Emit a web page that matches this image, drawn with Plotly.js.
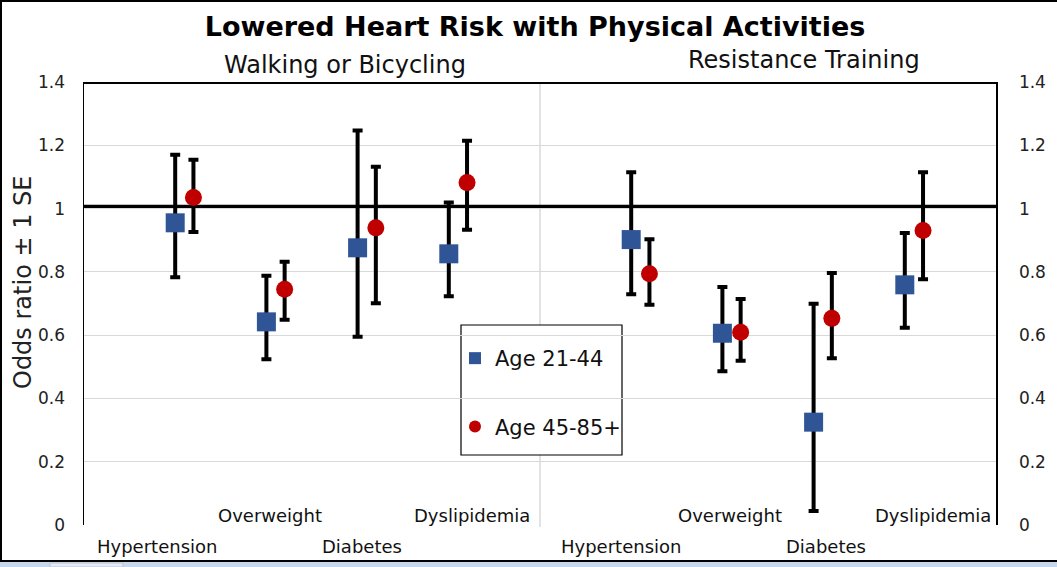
<!DOCTYPE html>
<html>
<head>
<meta charset="utf-8">
<script src="https://cdn.plot.ly/plotly-3.0.1.min.js"></script>
<style>html,body{margin:0;padding:0;background:#fff;}#chart{width:1057px;height:567px;}</style>
</head>
<body>
<div id="chart"></div>
<script>
// ---- data ----
const groups = ["Walking or Bicycling", "Resistance Training"];
const categories = ["Hypertension", "Overweight", "Diabetes", "Dyslipidemia"];
const seriesNames = ["Age 21-44", "Age 45-85+"];

// Walking or Bicycling
const walkYoung    = [0.955, 0.642, 0.876, 0.857];
const walkYoungHi  = [1.170, 0.788, 1.247, 1.019];
const walkYoungLo  = [0.783, 0.524, 0.595, 0.723];
const walkOld      = [1.035, 0.745, 0.939, 1.082];
const walkOldHi    = [1.154, 0.832, 1.132, 1.214];
const walkOldLo    = [0.926, 0.649, 0.701, 0.933];

// Resistance Training
const resYoung     = [0.902, 0.606, 0.325, 0.759];
const resYoungHi   = [1.115, 0.752, 0.699, 0.923];
const resYoungLo   = [0.729, 0.486, 0.044, 0.623];
const resOld       = [0.794, 0.609, 0.653, 0.931];
const resOldHi     = [0.903, 0.714, 0.796, 1.115];
const resOldLo     = [0.696, 0.519, 0.527, 0.777];

const yTicks = [0, 0.2, 0.4, 0.6, 0.8, 1, 1.2, 1.4];

// ---- layout helpers (positions only) ----
const groupStart = [1, 6];      // x position of first category in each group
const ageOffset = [0, 0.2];     // horizontal offset of the second age series
const labelX = [[0.80, 2.04, 3.05, 4.25], [5.89, 7.08, 8.14, 9.31]];
const labelRowUpper = [false, true, false, true];

const FONT = "DejaVu Sans";
const BLUE = "#2F5597";
const RED = "#C00000";

function xs(g, s) { return categories.map((_, i) => groupStart[g] + i + ageOffset[s]); }
function errs(v, hi, lo) {
  return {type: "data", symmetric: false,
    array: v.map((x, i) => hi[i] - x), arrayminus: v.map((x, i) => x - lo[i]),
    color: "#000", thickness: 4, width: 5};
}

const youngX = xs(0, 0).concat(xs(1, 0));
const oldX = xs(0, 1).concat(xs(1, 1));
const youngY = walkYoung.concat(resYoung);
const oldY = walkOld.concat(resOld);

const traces = [
  {type: "scatter", mode: "markers", name: seriesNames[0], legendgroup: "a",
   x: youngX, y: youngY,
   error_y: errs(youngY, walkYoungHi.concat(resYoungHi), walkYoungLo.concat(resYoungLo)),
   marker: {symbol: "square", size: 19, color: BLUE}},
  {type: "scatter", mode: "markers", name: seriesNames[1], legendgroup: "b",
   x: oldX, y: oldY,
   error_y: errs(oldY, walkOldHi.concat(resOldHi), walkOldLo.concat(resOldLo)),
   marker: {symbol: "circle", size: 17, color: RED}},
  {type: "scatter", mode: "markers", x: [0], y: [0], yaxis: "y2",
   marker: {opacity: 0}, showlegend: false, hoverinfo: "skip"}
];

// pixel -> paper helpers for the frame decorations
const L = 84, R = 61, T = 82, B = 42, W = 1057, H = 567;
const pw = W - L - R, ph = H - T - B;
const px = p => (p - L) / pw;
const py = p => (H - B - p) / ph;

const annotations = [];
groups.forEach((g, gi) => {
  categories.forEach((c, ci) => {
    annotations.push({text: c, x: labelX[gi][ci], xref: "x",
      y: labelRowUpper[ci] ? py(515) : py(546), yref: "paper",
      showarrow: false, xanchor: "center", yanchor: "middle",
      font: {family: FONT, size: 18, color: "#111"}});
  });
});
annotations.push({text: groups[0], x: px(345), y: py(65), xref: "paper", yref: "paper",
  showarrow: false, xanchor: "center", yanchor: "middle", font: {family: FONT, size: 24, color: "#111"}});
annotations.push({text: groups[1], x: px(804), y: py(60), xref: "paper", yref: "paper",
  showarrow: false, xanchor: "center", yanchor: "middle", font: {family: FONT, size: 24, color: "#111"}});
annotations.push({text: "Odds ratio ± 1 SE", x: px(23), y: py(282), xref: "paper", yref: "paper",
  textangle: -90, showarrow: false, xanchor: "center", yanchor: "middle",
  font: {family: FONT, size: 24, color: "#222"}});

const shapes = [
  // separator between groups
  {type: "line", xref: "x", yref: "paper", x0: 5, x1: 5, y0: py(527), y1: 1,
   line: {color: "#D9D9D9", width: 1.5}, layer: "below"},
  // reference line at odds ratio 1
  {type: "line", xref: "paper", yref: "y", x0: 0, x1: px(998), y0: 1.006, y1: 1.006,
   line: {color: "#000", width: 4}, layer: "below"},
  // top border at 1.4
  {type: "line", xref: "paper", yref: "y", x0: px(83), x1: 1, y0: 1.4, y1: 1.4,
   line: {color: "#000", width: 4}},
  // legend box
  {type: "rect", xref: "paper", yref: "paper", x0: px(461), x1: px(622), y0: py(455), y1: py(325),
   line: {color: "#000", width: 1.2}, fillcolor: "#fff", layer: "below"},
  // window frame
  {type: "line", xref: "paper", yref: "paper", x0: px(0), x1: px(W), y0: py(1), y1: py(1), line: {color: "#000", width: 2}},
  {type: "line", xref: "paper", yref: "paper", x0: px(1), x1: px(1), y0: py(0), y1: py(561), line: {color: "#000", width: 2}},
  {type: "line", xref: "paper", yref: "paper", x0: px(0), x1: px(W), y0: py(561), y1: py(561), line: {color: "#000", width: 2}},
  {type: "rect", xref: "paper", yref: "paper", x0: px(0), x1: px(W), y0: py(567), y1: py(562),
   line: {width: 0}, fillcolor: "#C6D7EE"},
  {type: "rect", xref: "paper", yref: "paper", x0: px(50), x1: px(123), y0: py(567), y1: py(563),
   line: {color: "#B8C4D4", width: 1}, fillcolor: "#E4EAF3"}
];

const yCommon = {range: [0, 1.4], tickvals: yTicks, ticktext: yTicks.map(String),
  ticks: "", showline: true, linecolor: "#000", linewidth: 1.5,
  tickfont: {family: FONT, size: 17, color: "#222"}, fixedrange: true};

const layout = {
  width: W, height: H,
  margin: {l: L, r: R, t: T, b: B, pad: 0},
  paper_bgcolor: "#fff", plot_bgcolor: "#fff",
  font: {family: FONT, color: "#111"},
  title: {text: "<b>Lowered Heart Risk with Physical Activities</b>",
    x: 535 / W, xanchor: "center", y: 1 - 27 / H, yanchor: "middle", yref: "container",
    font: {family: FONT, size: 27, color: "#000"}},
  xaxis: {range: [0, 10], showticklabels: false, showgrid: false, zeroline: false,
    showline: false, ticks: "", fixedrange: true},
  yaxis: Object.assign({}, yCommon, {showgrid: true, gridcolor: "#D9D9D9", gridwidth: 1,
    zeroline: false, ticklabelstandoff: 14}),
  yaxis2: Object.assign({}, yCommon, {overlaying: "y", side: "right", showgrid: false,
    zeroline: false, ticklabelstandoff: 18}),
  showlegend: true,
  legend: {x: px(455), y: py(338), xanchor: "left", yanchor: "top",
    bgcolor: "rgba(0,0,0,0)", borderwidth: 0, itemsizing: "constant", itemwidth: 30,
    tracegroupgap: 38, traceorder: "grouped",
    font: {family: FONT, size: 21, color: "#111"}},
  annotations: annotations,
  shapes: shapes
};

Plotly.newPlot("chart", traces, layout, {displayModeBar: false, staticPlot: true});
</script>
</body>
</html>
